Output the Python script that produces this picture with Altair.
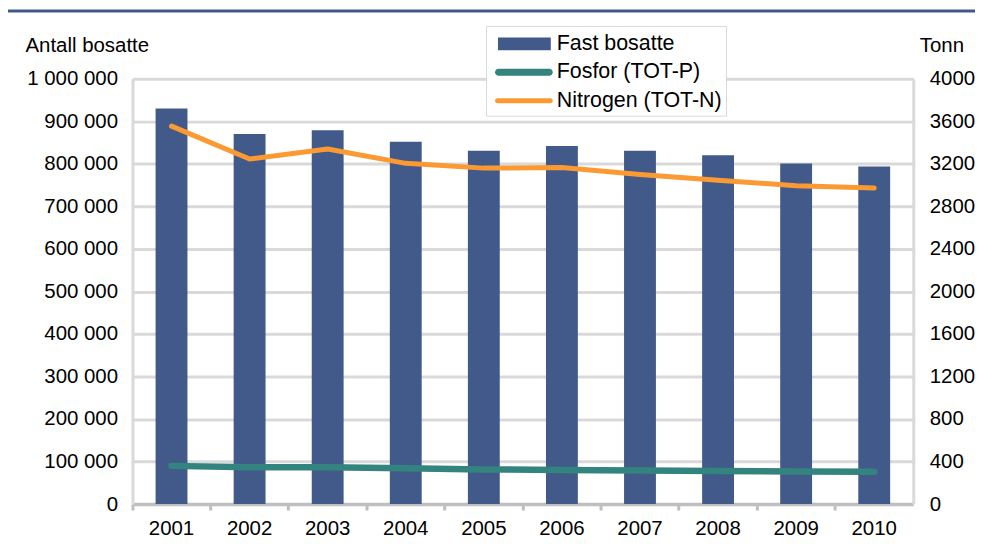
import altair as alt
import pandas as pd

years = ["2001", "2002", "2003", "2004", "2005", "2006", "2007", "2008", "2009", "2010"]
fast_bosatte = [930000, 870000, 879000, 852000, 831000, 842000, 831000, 820000, 801000, 794000]
fosfor = [359, 347, 346, 337, 326, 320, 316, 310, 306, 303]
nitrogen = [3555, 3245, 3340, 3205, 3160, 3165, 3100, 3045, 2995, 2972]

series_names = ["Fast bosatte", "Fosfor (TOT-P)", "Nitrogen (TOT-N)"]
series_colors = ["#415a8a", "#33847f", "#fb9a32"]

left_ticks = [i * 100000 for i in range(11)]
right_ticks = [i * 400 for i in range(11)]

FONT = "Liberation Sans"
FS = 20.5
LFS = 21.5

df_bar = pd.DataFrame({"year": years, "value": fast_bosatte, "series": series_names[0]})
df_p = pd.DataFrame({"year": years, "tonn": fosfor, "series": series_names[1]})
df_n = pd.DataFrame({"year": years, "tonn": nitrogen, "series": series_names[2]})

color_scale = alt.Scale(domain=series_names, range=series_colors)

shape_expr = (
    "datum.value === 'Fast bosatte' ? 'M-0.43,-0.46H3.36V0.46H-0.43Z' : "
    "datum.value === 'Fosfor (TOT-P)' ? "
    "'M-0.39,-0.25H3.25A0.25,0.25 0 0 1 3.25,0.25H-0.39A0.25,0.25 0 0 1 -0.39,-0.25Z' : "
    "'M-0.46,-0.18H3.32A0.18,0.18 0 0 1 3.32,0.18H-0.46A0.18,0.18 0 0 1 -0.46,-0.18Z'"
)

legend = alt.Legend(
    title=None,
    orient="none",
    legendX=355,
    legendY=-53,
    fillColor="white",
    strokeColor="#d9d9d9",
    padding=4,
    rowPadding=3.5,
    symbolSize=784,
    symbolType=alt.ExprRef(expr=shape_expr),
    symbolFillColor=alt.ExprRef(expr="scale('color', datum.value)"),
    symbolStrokeWidth=0,
    symbolOpacity=1,
    labelOffset=39,
    labelFont=FONT,
    labelFontSize=LFS,
    labelColor="black",
    labelLimit=400,
)

x_enc = alt.X(
    "year:N",
    sort=years,
    scale=alt.Scale(paddingInner=0, paddingOuter=0),
    axis=alt.Axis(
        title=None,
        labelAngle=0,
        labelFont=FONT,
        labelFontSize=FS,
        labelColor="black",
        labelPadding=9,
        ticks=True,
        tickSize=6,
        tickColor="#bfbfbf",
        tickWidth=3,
        bandPosition=0,
        domainColor="#bfbfbf",
        domainWidth=3.5,
        grid=False,
    ),
)

bars = alt.Chart(df_bar).mark_bar(width=32).encode(
    x=x_enc,
    y=alt.Y(
        "value:Q",
        scale=alt.Scale(domain=[0, 1000000]),
        axis=alt.Axis(
            values=left_ticks,
            labelExpr="datum.value >= 1000000 ? '1 000 000' : datum.value == 0 ? '0' : format(datum.value / 1000, 'd') + ' 000'",
            labelFont=FONT,
            labelFontSize=FS,
            labelColor="black",
            labelPadding=15,
            ticks=False,
            grid=True,
            gridColor="#d9d9d9",
            gridWidth=3,
            domainColor="#d9d9d9",
            domainWidth=3,
            title="Antall bosatte",
            titleFont=FONT,
            titleFontSize=FS,
            titleFontWeight="normal",
            titleColor="black",
            titleAngle=0,
            titleAlign="left",
            titleBaseline="middle",
            titleX=-108,
            titleY=-33,
        ),
    ),
    color=alt.Color("series:N", scale=color_scale, legend=legend),
)

right_axis = alt.Axis(
    orient="right",
    values=right_ticks,
    format="d",
    labelFont=FONT,
    labelFontSize=FS,
    labelColor="black",
    labelPadding=16,
    labelAlign="left",
    ticks=False,
    grid=False,
    domainColor="#d9d9d9",
    domainWidth=3,
    title="Tonn",
    titleFont=FONT,
    titleFontSize=FS,
    titleFontWeight="normal",
    titleColor="black",
    titleAngle=0,
    titleAlign="left",
    titleBaseline="middle",
    titleX=6,
    titleY=-33,
)

line_p = alt.Chart(df_p).mark_line(strokeWidth=6.5, strokeCap="round", strokeJoin="round").encode(
    x=x_enc,
    y=alt.Y("tonn:Q", scale=alt.Scale(domain=[0, 4000]), axis=right_axis),
    color=alt.Color("series:N", scale=color_scale, legend=legend),
)

line_n = alt.Chart(df_n).mark_line(strokeWidth=5, strokeCap="round", strokeJoin="round").encode(
    x=x_enc,
    y=alt.Y("tonn:Q", scale=alt.Scale(domain=[0, 4000]), axis=right_axis),
    color=alt.Color("series:N", scale=color_scale, legend=legend),
)

top_rule = alt.Chart(df_bar.head(1)).mark_rule(color="#3f5a8a", strokeWidth=3).encode(
    x=alt.value(-125), x2=alt.value(846), y=alt.value(-68)
)

lines = alt.layer(line_p, line_n)

chart = (
    alt.layer(bars, lines, top_rule)
    .resolve_scale(y="independent")
    .properties(
        width=784,
        height=427,
        padding={"left": 125, "top": 70, "right": 62, "bottom": 36},
        autosize=alt.AutoSizeParams(type="none"),
    )
    .configure_view(stroke=None)
    .configure(background="white")
)

chart.save("out.html", embed_options={"renderer": "svg", "actions": False})
